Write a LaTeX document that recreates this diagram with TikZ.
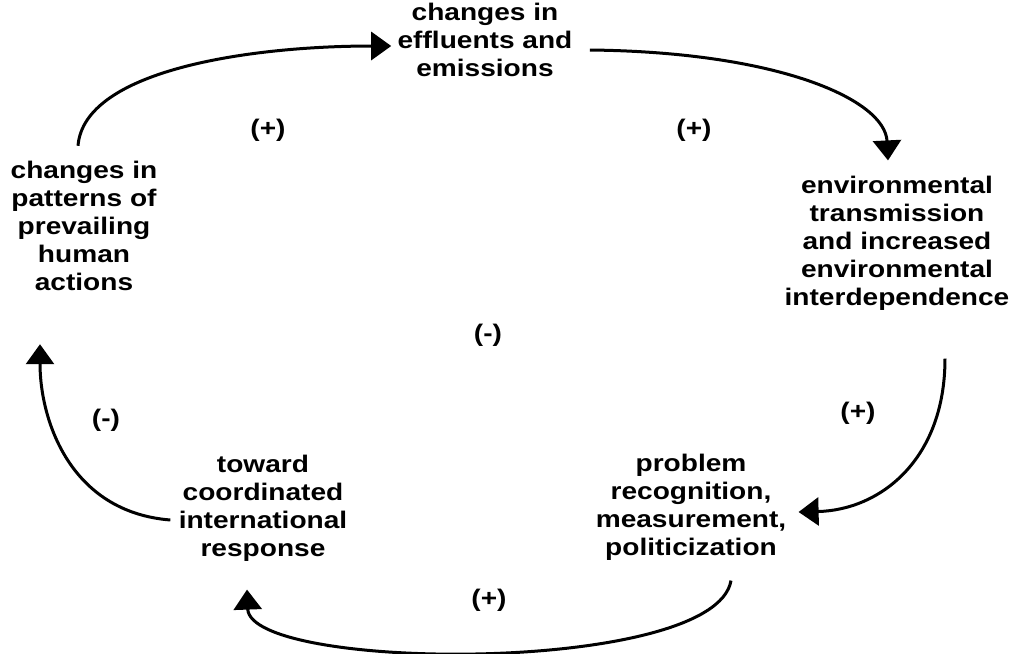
\documentclass[tikz,border=0pt]{standalone}
\usepackage{fontspec}
\setmainfont{Liberation Sans}[FakeStretch=1.17]
\usetikzlibrary{arrows.meta}
\begin{document}
\begin{tikzpicture}[x=0.5pt,y=-0.5pt,
  box/.style={align=center,inner sep=0pt,font=\bfseries\fontsize{12}{14}\selectfont},
  sign/.style={inner sep=0pt,font=\bfseries\fontsize{12}{14}\selectfont},
  conn/.style={line width=1.5pt,-{Triangle[width=14pt,length=10pt]}}]
\useasboundingbox (0,0) rectangle (1014,654);
\node[box] (T) at (485,40) {changes in\\effluents and\\emissions};
\node[box] (L) at (84,226) {changes in\\patterns of\\prevailing\\human\\actions};
\node[box] (R) at (897,243) {environmental\\transmission\\and increased\\environmental\\interdependence};
\node[box] (BL) at (263,508) {toward\\coordinated\\international\\response};
\node[box] (BR) at (691,507) {problem\\recognition,\\measurement,\\politicization};
\node[sign] (s1) at (268,130) {(+)};
\node[sign] (s2) at (694,130) {(+)};
\node[sign] (s3) at (488,335) {(-)};
\node[sign] (s4) at (106,420) {(-)};
\node[sign] (s5) at (858,413) {(+)};
\node[sign] (s6) at (489,600) {(+)};
\draw[conn] ([shift={(-6,-15)}]L.north) .. controls (84,70) and (250,46) .. ([shift={(-6,6)}]T.west);
\draw[conn] ([shift={(17,10)}]T.east) .. controls (780,52) and (885,100) .. ([shift={(-9,-15)}]R.north);
\draw[conn] ([shift={(48,48)}]R.south) .. controls (945,460) and (880,510) .. ([shift={(12,5)}]BR.east);
\draw[conn] ([shift={(40,20)}]BR.south) .. controls (715,675) and (250,672) .. ([shift={(-16,28)}]BL.south);
\draw[conn] ([shift={(-8,12)}]BL.west) .. controls (70,512) and (40,420) .. ([shift={(-44,53)}]L.south);
\end{tikzpicture}
\end{document}
